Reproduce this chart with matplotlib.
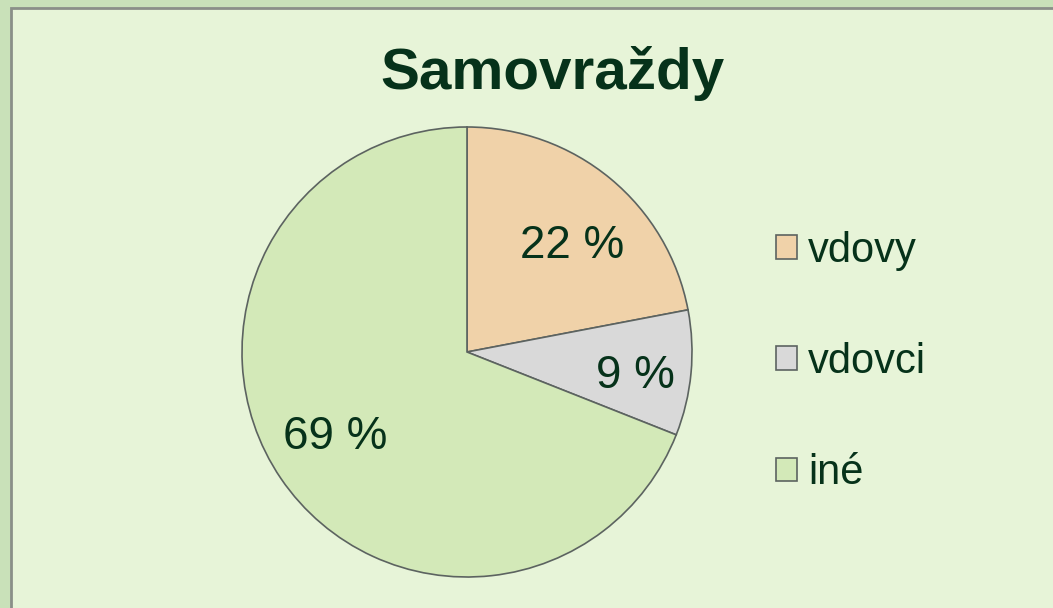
import matplotlib.pyplot as plt
from matplotlib.patches import Rectangle

# data
labels = ["vdovy", "vdovci", "iné"]
values = [22, 9, 69]
colors = ["#f0d2a9", "#d9d9d9", "#d3e9b8"]
text_color = "#06321a"

plt.rcParams['font.family'] = ['Liberation Sans', 'DejaVu Sans']

W, H = 1053, 608
fig = plt.figure(figsize=(W / 100, H / 100), dpi=100, facecolor="#c9e1b9")

# chart panel with border
fig.patches.append(Rectangle((11 / W, -0.05), 1.1, 1 - 8 / H + 0.05,
                             transform=fig.transFigure, facecolor="#e7f4d8",
                             edgecolor="#8a8f88", lw=2, zorder=-5))

# pie axes, center (467, 352), radius 225 px
cx, cy, r = 467, 352, 225
ax = fig.add_axes([(cx - r) / W, (H - cy - r) / H, 2 * r / W, 2 * r / H])
ax.set_facecolor("none")
wedges, texts = ax.pie(values, colors=colors, startangle=90, counterclock=False,
                       radius=1, wedgeprops=dict(edgecolor="#5c6360", linewidth=1.2))
ax.set_xlim(-1, 1)
ax.set_ylim(-1, 1)
ax.set_aspect("equal")
ax.axis("off")

# percentage labels (baseline positions)
pct_pos = [(0.467, 0.418), (0.749, -0.16), (-0.584, -0.431)]
for v, (x, y) in zip(values, pct_pos):
    ax.text(x, y, f"{v} %", ha="center", va="baseline", fontsize=33, color=text_color)

fig.text(552.5 / W, 1 - 89 / H, "Samovraždy", ha="center", va="baseline",
         fontsize=42, fontweight="bold", color=text_color)

leg = fig.legend(wedges, labels, loc="center left", bbox_to_anchor=(776 / W, 1 - 362 / H),
                 frameon=False, fontsize=30, handlelength=0.5, handleheight=0.5,
                 handletextpad=0.27, labelspacing=1.71, borderpad=0, borderaxespad=0,
                 labelcolor=text_color)
for h in leg.legend_handles:
    h.set_edgecolor("#5c6360")
    h.set_linewidth(1.2)

fig.savefig("out.png", dpi=100, facecolor=fig.get_facecolor())
